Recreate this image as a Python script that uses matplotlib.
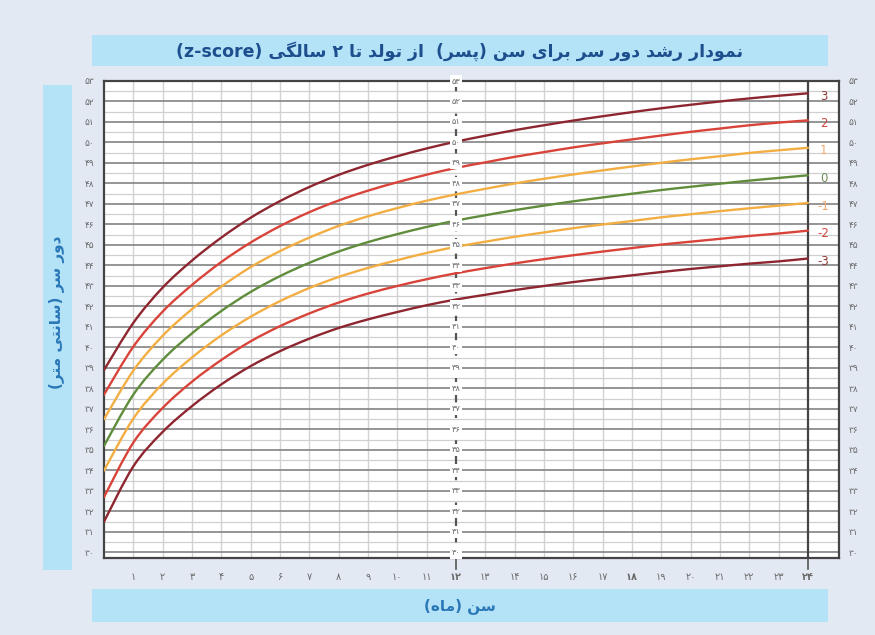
#!/usr/bin/env python
# -*- coding: utf-8 -*-

import re
import matplotlib
matplotlib.use('Agg')
from matplotlib import pyplot as plt
from matplotlib.patches import Rectangle, PathPatch
from matplotlib.path import Path

# head circumference (cm) by month, boys, z-score curves
months = list(range(0, 25))
z_m3 = [31.50, 34.20, 35.88, 37.14, 38.20, 39.09, 39.82, 40.43, 40.95, 41.37, 41.73, 42.06, 42.34,
        42.57, 42.80, 43.00, 43.19, 43.36, 43.52, 43.68, 43.83, 43.96, 44.09, 44.20, 44.34]
z_m2 = [32.70, 35.36, 37.05, 38.33, 39.39, 40.30, 41.04, 41.66, 42.19, 42.63, 43.00, 43.33, 43.62,
        43.87, 44.10, 44.31, 44.50, 44.68, 44.85, 45.02, 45.16, 45.30, 45.44, 45.56, 45.70]
z_m1 = [34.00, 36.53, 38.23, 39.51, 40.59, 41.50, 42.26, 42.90, 43.44, 43.88, 44.26, 44.61, 44.91,
        45.16, 45.40, 45.61, 45.82, 46.00, 46.17, 46.35, 46.50, 46.65, 46.79, 46.92, 47.05]
z_0 = [35.20, 37.70, 39.40, 40.69, 41.78, 42.71, 43.48, 44.13, 44.68, 45.14, 45.53, 45.88, 46.19,
       46.45, 46.70, 46.92, 47.13, 47.32, 47.50, 47.68, 47.84, 47.99, 48.14, 48.27, 48.40]
z_p1 = [36.50, 38.87, 40.57, 41.87, 42.97, 43.92, 44.70, 45.36, 45.93, 46.40, 46.80, 47.16, 47.47,
        47.74, 48.00, 48.23, 48.44, 48.64, 48.83, 49.01, 49.18, 49.33, 49.49, 49.62, 49.74]
z_p2 = [37.70, 40.04, 41.75, 43.05, 44.17, 45.12, 45.92, 46.60, 47.17, 47.65, 48.06, 48.43, 48.76,
        49.03, 49.30, 49.53, 49.76, 49.96, 50.15, 50.34, 50.52, 50.68, 50.84, 50.97, 51.08]
z_p3 = [38.90, 41.20, 42.92, 44.24, 45.36, 46.33, 47.14, 47.83, 48.42, 48.91, 49.33, 49.71, 50.04,
        50.33, 50.60, 50.84, 51.07, 51.28, 51.48, 51.67, 51.84, 52.00, 52.15, 52.28, 52.40]

z_labels = ['3', '2', '1', '0', '-1', '-2', '-3']
y_ticks = list(range(30, 54))
x_ticks = list(range(1, 25))

title_fa = 'نمودار رشد دور سر برای سن (پسر)  از تولد تا ۲ سالگی (z-score)'
ylabel_fa = 'دور سر (سانتی متر)'
xlabel_fa = 'سن (ماه)'


# --- minimal persian shaping (matplotlib has no complex text layout) ---
FORMS = {
    'ا': ('\uFE8D', '\uFE8E', None, None),
    'ب': ('\uFE8F', '\uFE90', '\uFE91', '\uFE92'),
    'پ': ('\uFB56', '\uFB57', '\uFB58', '\uFB59'),
    'ت': ('\uFE95', '\uFE96', '\uFE97', '\uFE98'),
    'د': ('\uFEA9', '\uFEAA', None, None),
    'ر': ('\uFEAD', '\uFEAE', None, None),
    'ز': ('\uFEAF', '\uFEB0', None, None),
    'س': ('\uFEB1', '\uFEB2', '\uFEB3', '\uFEB4'),
    'ش': ('\uFEB5', '\uFEB6', '\uFEB7', '\uFEB8'),
    'ل': ('\uFEDD', '\uFEDE', '\uFEDF', '\uFEE0'),
    'م': ('\uFEE1', '\uFEE2', '\uFEE3', '\uFEE4'),
    'ن': ('\uFEE5', '\uFEE6', '\uFEE7', '\uFEE8'),
    'ه': ('\uFEE9', '\uFEEA', '\uFEEB', '\uFEEC'),
    'و': ('\uFEED', '\uFEEE', None, None),
    'ی': ('\uFBFC', '\uFBFD', '\uFBFE', '\uFBFF'),
    'گ': ('\uFB92', '\uFB93', '\uFB94', '\uFB95'),
}


def shape(s):
    out = []
    for i, c in enumerate(s):
        if c not in FORMS:
            out.append(c)
            continue
        f = FORMS[c]
        prev = s[i - 1] if i > 0 else ''
        nxt = s[i + 1] if i + 1 < len(s) else ''
        jp = prev in FORMS and FORMS[prev][2] is not None
        jn = f[2] is not None and nxt in FORMS
        if jp and jn:
            out.append(f[3])
        elif jp:
            out.append(f[1])
        elif jn:
            out.append(f[2])
        else:
            out.append(f[0])
    return ''.join(out)


def rtl(s):
    rev = shape(s)[::-1]
    rev = ''.join({'(': ')', ')': '('}.get(c, c) for c in rev)
    return re.sub(r'[A-Za-z][A-Za-z\-]*[A-Za-z]', lambda m: m.group(0)[::-1], rev)


def fa(n):
    return str(n).translate(str.maketrans('0123456789', '۰۱۲۳۴۵۶۷۸۹'))


def smooth_path(xs, ys):
    # catmull-rom through the points, drawn as cubic beziers
    pts = list(zip(xs, ys))
    verts = [pts[0]]
    codes = [Path.MOVETO]
    n = len(pts)
    for i in range(n - 1):
        p0 = pts[i - 1] if i > 0 else pts[i]
        p1 = pts[i]
        p2 = pts[i + 1]
        p3 = pts[i + 2] if i + 2 < n else pts[i + 1]
        c1 = (p1[0] + (p2[0] - p0[0]) / 6, p1[1] + (p2[1] - p0[1]) / 6)
        c2 = (p2[0] - (p3[0] - p1[0]) / 6, p2[1] - (p3[1] - p1[1]) / 6)
        verts += [c1, c2, p2]
        codes += [Path.CURVE4] * 3
    return Path(verts, codes)


W, H = 875, 635
bg = '#e3e9f3'
band = '#b4e2f6'
blue_dark = '#1d4f8e'
blue_txt = '#2a78b8'
tick_col = '#6a6a6a'

fig = plt.figure(figsize=(W / 100, H / 100), dpi=100, facecolor=bg)


def px_rect(x0, y0, x1, y1, color):
    fig.add_artist(Rectangle((x0 / W, 1 - y1 / H), (x1 - x0) / W, (y1 - y0) / H,
                             transform=fig.transFigure, facecolor=color,
                             edgecolor='none', zorder=0))


px_rect(92, 35, 828, 66, band)
px_rect(92, 589, 828, 622, band)
px_rect(43, 85, 72, 570, band)

fig.text(460 / W, 1 - 51 / H, rtl(title_fa), ha='center', va='center',
         fontsize=12.5, fontweight='bold', color=blue_dark, family='DejaVu Sans')
fig.text(460 / W, 1 - 606 / H, rtl(xlabel_fa), ha='center', va='center',
         fontsize=11, fontweight='bold', color=blue_txt, family='DejaVu Sans')
fig.text(57 / W, 1 - 312 / H, rtl(ylabel_fa), ha='center', va='center',
         rotation=90, fontsize=11, fontweight='bold', color=blue_txt,
         family='DejaVu Sans')

ax = fig.add_axes([104 / W, 1 - 558 / H, (839 - 104) / W, (558 - 81) / H])
ax.set_facecolor('white')
ax.set_xlim(0, 25.06)
ax.set_ylim(29.73, 53)

# grid
for m in range(1, 24):
    if m != 12:
        ax.axvline(m, color='#d2d2d2', lw=1.0, zorder=1)
for v in y_ticks:
    ax.axhline(v, color='#8c8c8c', lw=1.3, zorder=1)
    ax.axhline(v + 0.5, color='#d0d0d0', lw=0.9, zorder=1)
ax.axvline(12, color='#555555', lw=1.6, dashes=(4, 3), zorder=2)
ax.axvline(24, color='#444444', lw=1.6, zorder=2)
for m in (12, 24):
    ax.plot([m, m], [29.73, 29.2], color='#555555', lw=1.2, clip_on=False)

# curves
series = [z_p3, z_p2, z_p1, z_0, z_m1, z_m2, z_m3]
line_cols = ['#8e2630', '#d9443a', '#f2ae42', '#5f8d3c', '#f2ae42', '#d9443a', '#8e2630']
label_cols = ['#8e3a38', '#d0453c', '#f3a86a', '#6e8f60', '#f3a86a', '#d0453c', '#8e3a38']
for vals, lc, tc, lab in zip(series, line_cols, label_cols, z_labels):
    ax.add_patch(PathPatch(smooth_path(months, vals), fill=False, edgecolor=lc,
                           lw=1.7, zorder=3, capstyle='round'))
    ax.text(24.53, vals[-1] - 0.15, lab, ha='center', va='center', fontsize=8.5,
            color=tc, zorder=4)

# middle labels along the 12-month line
for v in y_ticks:
    ax.text(12, v, fa(v), ha='center', va='center', fontsize=6, color=tick_col,
            zorder=4, bbox=dict(facecolor='white', edgecolor='none', pad=1.2))

ax.set_yticks(y_ticks)
ax.set_yticklabels([fa(v) for v in y_ticks])
ax.set_xticks(x_ticks)
ax.set_xticklabels([fa(m) for m in x_ticks])
for lab, m in zip(ax.get_xticklabels(), x_ticks):
    if m in (12, 18, 24):
        lab.set_fontweight('bold')
        lab.set_color('#444444')
ax.tick_params(axis='y', length=0, labelsize=6.5, labelcolor=tick_col,
               pad=7, labelright=True, right=False)
ax.tick_params(axis='x', length=0, labelsize=7, labelcolor=tick_col, pad=10)

for s in ax.spines.values():
    s.set_color('#444444')
    s.set_linewidth(1.6)

fig.savefig('out.png', dpi=100, facecolor=bg)
